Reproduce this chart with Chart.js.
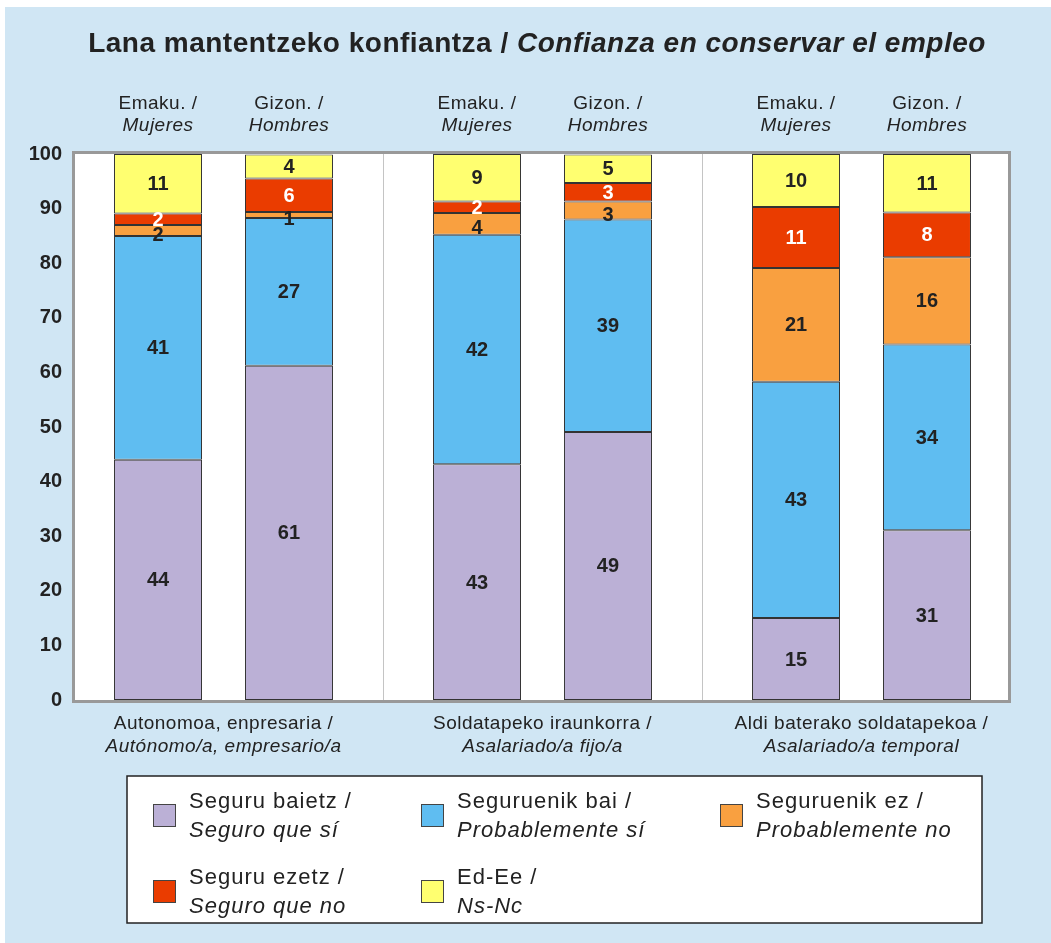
<!DOCTYPE html>
<html>
<head>
<meta charset="utf-8">
<script src="https://cdn.jsdelivr.net/npm/chart.js@4.4.0/dist/chart.umd.min.js"></script>
<style>
body { margin: 0; background: #fff; }
</style>
</head>
<body>
<canvas id="chart" width="1051" height="943"></canvas>
<script>
// 고용 형태 (x축 그룹)
const groupEu = ['Autonomoa, enpresaria /', 'Soldatapeko iraunkorra /', 'Aldi baterako soldatapekoa /'];
const groupEs = ['Autónomo/a, empresario/a', 'Asalariado/a fijo/a', 'Asalariado/a temporal'];

// 성별 (막대 위 라벨)
const sexEu = ['Emaku. /', 'Gizon. /'];
const sexEs = ['Mujeres', 'Hombres'];

// 응답 항목 (범례)
const respEu = ['Seguru baietz /', 'Seguruenik bai /', 'Seguruenik ez /', 'Seguru ezetz /', 'Ed-Ee /'];
const respEs = ['Seguro que sí', 'Probablemente sí', 'Probablemente no', 'Seguro que no', 'Ns-Nc'];
const respColors = ['#bbb0d6', '#5fbdf1', '#f9a040', '#ea3c00', '#ffff70'];

// 값 (그룹 순서: 자영업, 정규직, 임시직)
const seguroSiM = [44, 43.2, 15];
const seguroSiH = [61.2, 49.1, 31.1];
const probSiM = [41, 42, 43.3];
const probSiH = [27.1, 38.9, 34];
const probNoM = [2, 4, 20.8];
const probNoH = [1.1, 3.3, 16];
const seguroNoM = [2.1, 2.1, 11.2];
const seguroNoH = [6.1, 3.4, 8.2];
const nsncM = [10.9, 8.7, 9.7];
const nsncH = [4.4, 5.2, 10.7];

// y축 눈금
const yMin = 0;
const yMax = 100;
const yStep = 10;

const valuesM = [seguroSiM, probSiM, probNoM, seguroNoM, nsncM];
const valuesH = [seguroSiH, probSiH, probNoH, seguroNoH, nsncH];

const FONT = '"Liberation Sans", Arial, sans-serif';
Chart.defaults.font.family = FONT;

let datasets = [];
for (let r = 0; r < respEs.length; r++) {
    [valuesM, valuesH].forEach((vals, s) => {
        datasets.push({
            label: respEs[r],
            data: vals[r],
            resp: r,
            sex: s,
            stack: s === 0 ? 'M' : 'H',
            backgroundColor: respColors[r],
            borderColor: '#333',
            borderWidth: 1,
            borderSkipped: false
        });
    });
}

// 흰 프레임은 카테고리 영역보다 조금 안쪽
const frameInsetL = 11;
const frameInsetR = 13;

// 배경, 프레임, 텍스트 그리기
const decor = {
    id: 'decor',
    beforeDraw(chart) {
        const ctx = chart.ctx;
        const a = chart.chartArea;
        ctx.save();
        ctx.fillStyle = '#d0e6f4';
        ctx.fillRect(5, 7, chart.width - 5, chart.height - 7);
        ctx.fillStyle = '#fff';
        ctx.fillRect(a.left + frameInsetL, a.top, a.right - a.left - frameInsetL - frameInsetR, a.bottom - a.top);
        ctx.restore();
    },
    beforeDatasetsDraw(chart) {
        const ctx = chart.ctx;
        const a = chart.chartArea;
        const x = chart.scales.x;
        ctx.save();
        // 그룹 구분선
        ctx.strokeStyle = '#c4c4c4';
        ctx.lineWidth = 1;
        for (let i = 1; i < groupEu.length; i++) {
            const px = Math.round((x.getPixelForTick(i - 1) + x.getPixelForTick(i)) / 2) + 0.5;
            ctx.beginPath();
            ctx.moveTo(px, a.top);
            ctx.lineTo(px, a.bottom);
            ctx.stroke();
        }
        ctx.strokeStyle = '#999';
        ctx.lineWidth = 3;
        const l = a.left + frameInsetL, r = a.right - frameInsetR;
        ctx.strokeRect(l - 1.5, a.top - 1.5, r - l + 3, a.bottom - a.top + 3);
        ctx.restore();
    },
    afterDatasetsDraw(chart) {
        const ctx = chart.ctx;
        const x = chart.scales.x;
        ctx.save();
        ctx.textAlign = 'center';
        ctx.textBaseline = 'middle';

        // 막대 안 값
        ctx.font = 'bold 20px ' + FONT;
        chart.data.datasets.forEach((ds, di) => {
            const meta = chart.getDatasetMeta(di);
            meta.data.forEach((el, i) => {
                let ty = (el.y + el.base) / 2 + 1;
                // 아주 얇은 주황 구간은 글자를 아래로 조금
                if (ds.resp === 2 && ds.data[i] < 5) ty += 4;
                ctx.fillStyle = ds.resp === 3 ? '#fff' : '#222';
                ctx.fillText(Math.round(ds.data[i]), el.x, ty);
            });
        });

        // 성별 라벨
        ctx.fillStyle = '#222';
        ctx.letterSpacing = '0.5px';
        [0, 1].forEach((s) => {
            const meta = chart.getDatasetMeta(s);
            meta.data.forEach((el) => {
                ctx.font = '19px ' + FONT;
                ctx.fillText(sexEu[s], el.x, 104);
                ctx.font = 'italic 19px ' + FONT;
                ctx.fillText(sexEs[s], el.x, 126);
            });
        });

        // 그룹 라벨
        for (let i = 0; i < groupEu.length; i++) {
            const px = x.getPixelForTick(i);
            ctx.font = '19px ' + FONT;
            ctx.fillText(groupEu[i], px, 724);
            ctx.font = 'italic 19px ' + FONT;
            ctx.fillText(groupEs[i], px, 747);
        }

        // 제목
        const t1 = 'Lana mantentzeko konfiantza / ';
        const t2 = 'Confianza en conservar el empleo';
        ctx.font = 'bold 28px ' + FONT;
        const w1 = ctx.measureText(t1).width;
        ctx.font = 'bold italic 28px ' + FONT;
        const w2 = ctx.measureText(t2).width;
        let tx = 537 - (w1 + w2) / 2;
        ctx.textAlign = 'left';
        ctx.font = 'bold 28px ' + FONT;
        ctx.fillText(t1, tx, 44);
        ctx.font = 'bold italic 28px ' + FONT;
        ctx.fillText(t2, tx + w1, 44);

        // 범례
        ctx.letterSpacing = '1px';
        ctx.fillStyle = '#fff';
        ctx.fillRect(127, 776, 855, 147);
        ctx.strokeStyle = '#222';
        ctx.lineWidth = 1.5;
        ctx.strokeRect(127, 776, 855, 147);
        const colX = [153, 421, 720];
        const rowY = [804, 880];
        for (let r = 0; r < respEu.length; r++) {
            const cx = colX[r % 3];
            const cy = rowY[Math.floor(r / 3)];
            ctx.fillStyle = respColors[r];
            ctx.fillRect(cx, cy, 23, 23);
            ctx.strokeStyle = '#444';
            ctx.lineWidth = 1;
            ctx.strokeRect(cx + 0.5, cy + 0.5, 22, 22);
            ctx.fillStyle = '#222';
            ctx.font = '22px ' + FONT;
            ctx.fillText(respEu[r], cx + 36, cy - 2);
            ctx.font = 'italic 22px ' + FONT;
            ctx.fillText(respEs[r], cx + 36, cy + 27);
        }
        ctx.restore();
    }
};

new Chart(document.getElementById('chart'), {
    type: 'bar',
    data: {
        labels: groupEu,
        datasets: datasets
    },
    options: {
        responsive: false,
        animation: false,
        layout: { padding: { top: 154, right: 30, bottom: 243, left: 0 } },
        datasets: { bar: { categoryPercentage: 0.821, barPercentage: 0.672 } },
        plugins: { legend: { display: false }, tooltip: { enabled: false } },
        scales: {
            x: {
                stacked: true,
                ticks: { display: false },
                grid: { display: false },
                border: { display: false },
                afterFit: (s) => { s.height = 0; }
            },
            y: {
                stacked: true,
                min: yMin,
                max: yMax,
                ticks: { stepSize: yStep, padding: 2, color: '#222', font: { size: 20, weight: 'bold' } },
                grid: { display: false, drawTicks: false },
                border: { display: false },
                afterFit: (s) => { s.width = 64; }
            }
        }
    },
    plugins: [decor]
});
</script>
</body>
</html>
